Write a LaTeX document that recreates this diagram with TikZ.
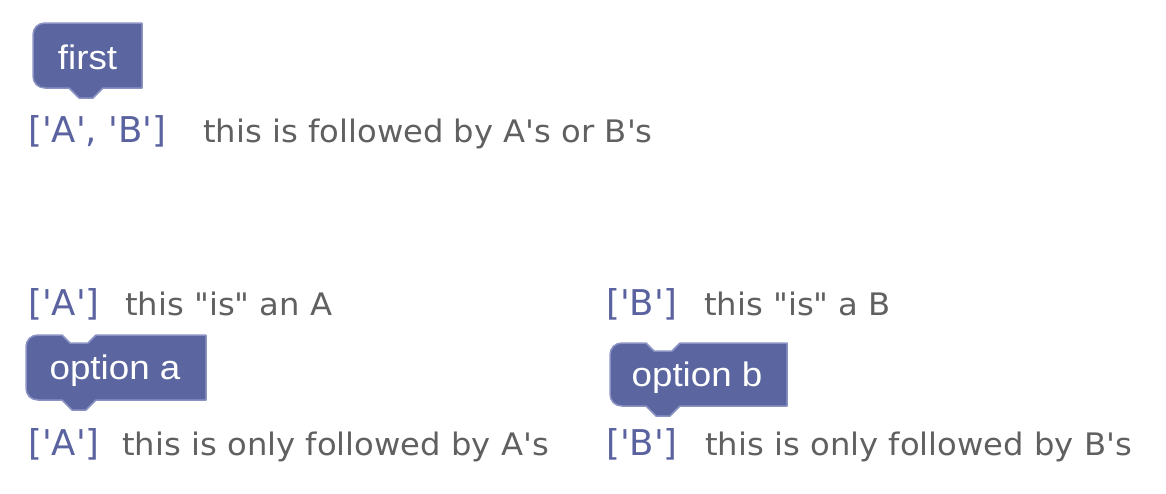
\documentclass[tikz,border=0pt]{standalone}
\usepackage{fontspec}
\usepackage{xcolor}
\newfontfamily\blockfont[FakeStretch=1.08]{Liberation Sans}
\newfontfamily\notefont{DejaVu Sans}
\newfontfamily\widenotefont[FakeStretch=1.04]{DejaVu Sans}
\definecolor{blockfill}{HTML}{5B66A0}
\definecolor{blockedge}{HTML}{8C93C4}
\definecolor{listblue}{HTML}{5A63A0}
\definecolor{notegray}{HTML}{606060}
\newcommand{\blockshape}[5]{%
  \draw[blockbody](#1,#2+12) .. controls (#1,#2+5) and (#1+5,#2) .. (#1+12,#2)
    --(#1+36,#2)--(#1+44,#2+#5)--(#1+62,#2+#5)--(#1+70,#2)--(#3,#2)--(#3,#4)
    --(#1+70,#4)--(#1+60,#4+10)--(#1+46,#4+10)--(#1+36,#4)--(#1+12,#4)
    .. controls (#1+5,#4) and (#1,#4-5) .. (#1,#4-12)--cycle;}
\tikzset{
  blockbody/.style={fill=blockfill,draw=blockedge,line width=1.5pt,line join=round},
  blocklabel/.style={text=white,font=\blockfont\fontsize{34}{34}\selectfont,inner sep=0pt},
  listlabel/.style={text=listblue,font=\notefont\fontsize{35.5}{35.5}\selectfont,anchor=base west,inner sep=0pt},
  notelabel/.style={text=notegray,font=\widenotefont\fontsize{31}{31}\selectfont,anchor=base west,inner sep=0pt}
}
\begin{document}
\begin{tikzpicture}[x=1pt,y=-1pt]
        \useasboundingbox(0,0)rectangle(1166,493);
        \blockshape{33}{23}{142}{88}{0}
        \node[blocklabel](first)at(87.5,57){first};
        \node[listlabel](listab)at(28,142){['A', 'B']};
        \node[notelabel](noteab)at(203,142){this is followed by A's or B's};
        \node[listlabel](lista)at(28,315){['A']};
        \node[notelabel](notea)at(125,315){this "is" an A};
        \node[listlabel](listb)at(606,315){['B']};
        \node[notelabel](noteb)at(704,315){this "is" a B};
        \blockshape{26}{335}{206}{400}{8}
        \node[blocklabel](optiona)at(115,371){option a};
        \blockshape{610}{343}{787}{406}{8}
        \node[blocklabel](optionb)at(697,378){option b};
        \node[listlabel](listaa)at(28,455){['A']};
        \node[notelabel](noteaa)at(122,455){this is only followed by A's};
        \node[listlabel](listbb)at(606,455){['B']};
        \node[notelabel](notebb)at(705,455){this is only followed by B's};
    \end{tikzpicture}
\end{document}
